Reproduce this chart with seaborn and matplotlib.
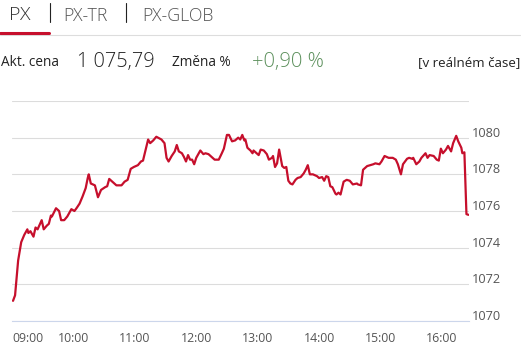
import matplotlib
matplotlib.use("Agg")
import matplotlib.pyplot as plt
import seaborn as sns
import pandas as pd
from matplotlib.transforms import ScaledTranslation

# ---- data (minutes after 09:00, index value) ----
minutes = [1, 3, 6, 9, 12, 15, 16, 18, 21, 23, 25, 29, 31, 34, 36, 38, 39, 43, 46, 48,
           51, 54, 58, 61, 63, 66, 69, 72, 74, 75, 77, 81, 84, 87, 91, 93, 95, 99, 102, 107,
           110, 113, 116, 119, 123, 126, 128, 133, 135, 138, 141, 146, 149, 151, 153, 156, 159, 161, 163, 166,
           168, 170, 172, 174, 176, 178, 180, 184, 187, 189, 192, 194, 198, 202, 205, 207, 210, 212, 215, 218,
           221, 223, 225, 227, 228, 230, 233, 235, 236, 239, 241, 243, 246, 249, 251, 254, 255, 257, 259, 261,
           264, 266, 268, 270, 272, 274, 277, 279, 282, 285, 287, 289, 291, 294, 298, 300, 303, 305, 307, 309,
           311, 313, 316, 317, 319, 321, 324, 327, 330, 333, 337, 338, 341, 343, 347, 350, 353, 355, 359, 361,
           364, 368, 372, 375, 377, 380, 382, 386, 388, 391, 392, 395, 398, 400, 404, 406, 408, 412, 415, 417,
           419, 421, 424, 426, 429, 431, 434, 436, 439, 440, 442, 444, 446]
values = [1071.1, 1071.4, 1073.3, 1074.3, 1074.7, 1075.0, 1074.8, 1074.9, 1074.6, 1075.1,
          1075.0, 1075.5, 1075.0, 1075.2, 1075.3, 1075.75, 1075.7, 1076.15, 1076.0, 1075.5,
          1075.5, 1075.7, 1076.1, 1076.0, 1076.15, 1076.4, 1076.8, 1077.25, 1077.8, 1078.0,
          1077.5, 1077.4, 1076.75, 1077.15, 1077.3, 1077.35, 1077.75, 1077.55, 1077.4, 1077.4,
          1077.6, 1077.7, 1078.3, 1078.4, 1078.5, 1078.7, 1078.75, 1079.9, 1079.7, 1079.85,
          1080.05, 1079.9, 1079.7, 1078.9, 1078.7, 1079.0, 1079.25, 1079.6, 1079.25, 1079.15,
          1078.95, 1078.7, 1079.05, 1078.8, 1078.8, 1078.55, 1078.9, 1079.3, 1079.1, 1079.15,
          1079.1, 1079.0, 1078.8, 1078.8, 1079.15, 1079.4, 1080.15, 1080.15, 1079.8, 1079.85,
          1080.0, 1079.9, 1080.15, 1079.85, 1079.9, 1079.45, 1079.3, 1079.15, 1079.3, 1079.15,
          1079.05, 1079.35, 1079.3, 1079.1, 1078.8, 1078.9, 1079.0, 1078.4, 1078.6, 1079.35,
          1078.45, 1078.35, 1078.4, 1077.65, 1077.5, 1077.45, 1077.7, 1077.8, 1077.85, 1078.05,
          1078.25, 1078.5, 1078.0, 1078.0, 1077.9, 1077.8, 1077.85, 1077.65, 1077.9, 1077.85,
          1077.35, 1077.3, 1076.95, 1076.9, 1077.0, 1076.9, 1077.6, 1077.7, 1077.65, 1077.45,
          1077.5, 1077.45, 1077.4, 1078.25, 1078.45, 1078.5, 1078.55, 1078.6, 1078.55, 1078.7,
          1079.0, 1078.9, 1078.9, 1078.8, 1078.55, 1078.0, 1078.55, 1078.85, 1078.9, 1078.85,
          1078.9, 1078.55, 1078.7, 1078.9, 1079.15, 1078.9, 1079.05, 1079.0, 1078.8, 1078.75,
          1079.4, 1079.15, 1079.35, 1079.55, 1079.25, 1079.7, 1080.1, 1079.8, 1079.45, 1079.15,
          1079.2, 1075.83, 1075.79]

x_tick_minutes = [0, 60, 120, 180, 240, 300, 360, 420]
x_tick_labels = ["09:00", "10:00", "11:00", "12:00", "13:00", "14:00", "15:00", "16:00"]
y_ticks = [1070, 1072, 1074, 1076, 1078, 1080, 1082]
y_tick_labels = ["1070", "1072", "1074", "1076", "1078", "1080", ""]

tabs = ["PX", "PX-TR", "PX-GLOB"]
price_label = "Akt. cena"
price_value = "1 075,79"
change_label = "Změna %"
change_value = "+0,90 %"
realtime = "[v reálném čase]"

# ---- style ----
sns.set_style("white")
plt.rcParams["font.family"] = ["Open Sans", "DejaVu Sans"]

W, H = 525, 344
fig = plt.figure(figsize=(W / 100, H / 100), dpi=100)

def px(x, y):
    return x / W, 1 - y / H

ax = fig.add_axes([12 / W, 23 / H, (469 - 12) / W, (243 - 23) / H])

df = pd.DataFrame({"t": minutes, "v": values})
sns.lineplot(data=df, x="t", y="v", ax=ax, color="#c60f2c", linewidth=1.6, zorder=3)

ax.set_xlim(0, 446.5)
ax.set_ylim(1070, 1082)
ax.set_xlabel("")
ax.set_ylabel("")

ax.set_yticks(y_ticks)
ax.set_yticklabels(y_tick_labels)
ax.yaxis.tick_right()
ax.grid(axis="y", color="#dcdcdc", linewidth=0.8)
ax.grid(axis="x", visible=False)
ax.tick_params(axis="y", length=0, pad=2.0, labelsize=9.2, labelcolor="#555555")
offset = ScaledTranslation(0, 1 / 100, fig.dpi_scale_trans)
for lab in ax.get_yticklabels():
    lab.set_verticalalignment("baseline")
    lab.set_transform(lab.get_transform() + offset)

ax.set_xticks(x_tick_minutes)
ax.set_xticklabels(x_tick_labels)
ax.tick_params(axis="x", length=6.5, width=0.8, color="#ccd6eb", pad=1.5,
               labelsize=8.8, labelcolor="#555555")
ax.get_xticklabels()[0].set_horizontalalignment("left")

for s in ["top", "right", "left"]:
    ax.spines[s].set_visible(False)
ax.spines["bottom"].set_color("#ccd6eb")
ax.spines["bottom"].set_linewidth(0.8)
ax.spines["bottom"].set_zorder(4)

# ---- header ----
fig.text(*px(9, 20), tabs[0], fontsize=14, color="#333333", va="baseline", fontweight="light")
fig.text(*px(63, 21), tabs[1], fontsize=12.8, color="#555555", va="baseline", fontweight="light")
fig.text(*px(142, 21), tabs[2], fontsize=12.8, color="#555555", va="baseline", fontweight="light")
fig.add_artist(plt.Line2D([50 / W, 50 / W], [1 - 3 / H, 1 - 22 / H], color="#222222", lw=0.8))
fig.add_artist(plt.Line2D([126 / W, 126 / W], [1 - 3 / H, 1 - 22 / H], color="#222222", lw=0.8))
fig.add_artist(plt.Line2D([0, 520 / W], [1 - 35 / H, 1 - 35 / H], color="#dddddd", lw=0.8))
fig.add_artist(plt.Line2D([0, 49 / W], [1 - 33 / H, 1 - 33 / H], color="#c60f2c", lw=2.2))

fig.text(*px(1, 66), price_label, fontsize=9.8, color="#222222", va="baseline")
fig.text(*px(77, 67), price_value, fontsize=14.3, color="#222222", va="baseline", fontweight="light")
fig.text(*px(172, 66), change_label, fontsize=9.8, color="#222222", va="baseline")
fig.text(*px(252, 67), change_value, fontsize=14.5, color="#5b8f5b", va="baseline", fontweight="light")
fig.text(*px(520, 66), realtime, fontsize=9.6, color="#222222", va="baseline", ha="right")

fig.savefig("out.png", dpi=100)
